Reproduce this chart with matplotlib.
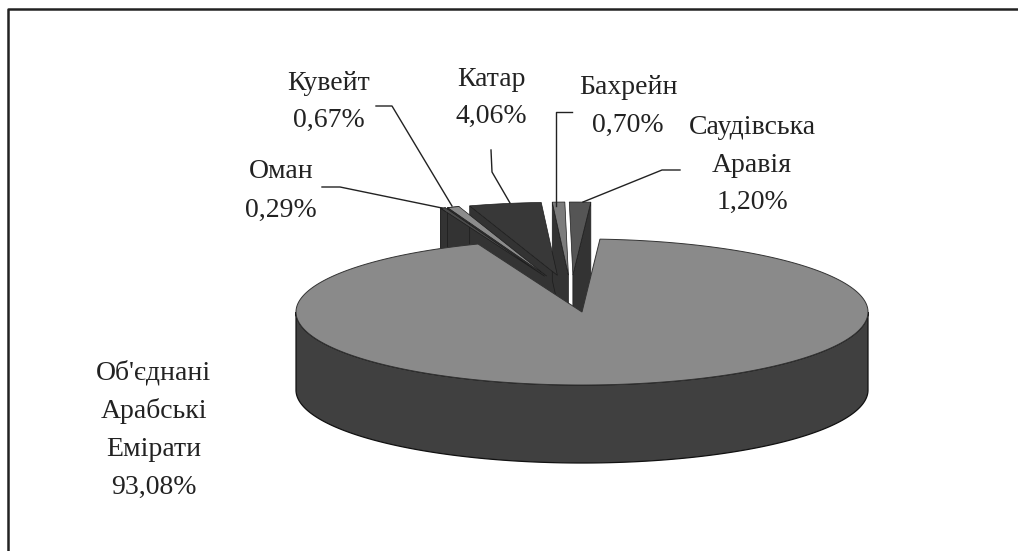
import numpy as np
import matplotlib
matplotlib.use("Agg")
import matplotlib.pyplot as plt
from matplotlib.patches import Polygon

# значення з підписів, проти годинникової стрілки від Об'єднаних Еміратів
names = ["Саудівська Аравія", "Бахрейн", "Катар", "Кувейт", "Оман"]
shares = [1.20, 0.70, 4.06, 0.67, 0.29]
main_share = 93.08

label_lines = [
    ["Кувейт", "0,67%"],
    ["Катар", "4,06%"],
    ["Бахрейн", "0,70%"],
    ["Саудівська", "Аравія", "1,20%"],
    ["Оман", "0,29%"],
    ["Об'єднані", "Арабські", "Емірати", "93,08%"],
]
label_pos = [(329, 84, 36), (491, 79, 37), (628, 88, 37), (752, 128, 37), (281, 172, 38), (154, 373, 38)]

# геометрія псевдо-3D кола, у пікселях картинки
cx, cy = 582, 312
rx, ry = 286, 73
depth = 78
start = 86.4
explode = 0.26
shift_x, shift_y = -11, -18

top_colors = ["#555555", "#7c7c7c", "#383838", "#8c8c8c", "#4a4a4a"]
side_color = "#333333"
main_top = "#8a8a8a"
main_side = "#404040"
ink = "#222222"


def arc(a0, a1, dx=0, dy=0):
    a = np.radians(np.linspace(a0, a1, max(2, int(abs(a1 - a0) * 3))))
    return np.column_stack([cx + dx + rx * np.cos(a), cy + dy - ry * np.sin(a)])


fig = plt.figure(figsize=(10.18, 5.51), dpi=100)
ax = fig.add_axes([0, 0, 1, 1])
ax.set_xlim(0, 1018)
ax.set_ylim(551, 0)
ax.axis("off")
plt.rcParams["font.family"] = ["Liberation Serif", "DejaVu Serif"]

# рамка: у картинці лише верхня та ліва лінії
ax.plot([8, 8, 1018], [551, 9, 9], color="#222222", lw=1.8)

# висунуті сектори, від лівого до правого
edges = start + np.cumsum([0] + shares) * 3.6
for i in range(len(shares) - 1, -1, -1):
    a0, a1 = edges[i], edges[i + 1]
    mid = np.radians((a0 + a1) / 2)
    dx = explode * rx * np.cos(mid) + shift_x
    dy = -explode * ry * np.sin(mid) + shift_y
    rim = arc(a0, a1, dx, dy)
    apex = np.array([cx + dx, cy + dy])
    # видима радіальна грань
    corner = rim[-1] if (a0 + a1) / 2 > 90 else rim[0]
    face = [apex, corner, corner + [0, depth], apex + [0, depth]]
    ax.add_patch(Polygon(face, fc=side_color, ec="#1c1c1c", lw=0.5, zorder=2))
    # зовнішня стінка, коли сектор лівіше центра
    if i >= 3:
        wall = np.vstack([rim, (rim + [0, depth])[::-1]])
        ax.add_patch(Polygon(wall, fc=side_color, ec="#1c1c1c", lw=0.5, zorder=1.5))
    ax.add_patch(Polygon(np.vstack([apex, rim]), fc=top_colors[i], ec="#1c1c1c", lw=0.5, zorder=3))

# великий сектор
bottom = arc(180, 360) + [0, depth]
front = arc(180, 360)
ax.add_patch(Polygon(np.vstack([front, bottom[::-1]]), fc=main_side, ec="#111111", lw=0.9, zorder=4))
end = start - main_share * 3.6
ax.add_patch(Polygon(np.vstack([[cx, cy], arc(end, start)]), fc=main_top, ec="#333333", lw=0.7, zorder=5))

# виноски
leaders = [
    ([376, 392, 452], [106, 106, 206]),
    ([491, 492, 510], [150, 172, 203]),
    ([572, 556, 556], [112, 112, 206]),
    ([680, 662, 583], [170, 170, 202]),
    ([322, 340, 442], [187, 187, 208]),
]
for xs, ys in leaders:
    ax.plot(xs, ys, color="#222222", lw=1.0, zorder=6)

for lines, (x, y, step) in zip(label_lines, label_pos):
    for k, line in enumerate(lines):
        ax.text(x, y + k * step, line, ha="center", va="center", fontsize=20,
                family=["Liberation Serif", "DejaVu Serif"], color=ink, zorder=7)

fig.savefig("out.png", dpi=100, facecolor="white")
